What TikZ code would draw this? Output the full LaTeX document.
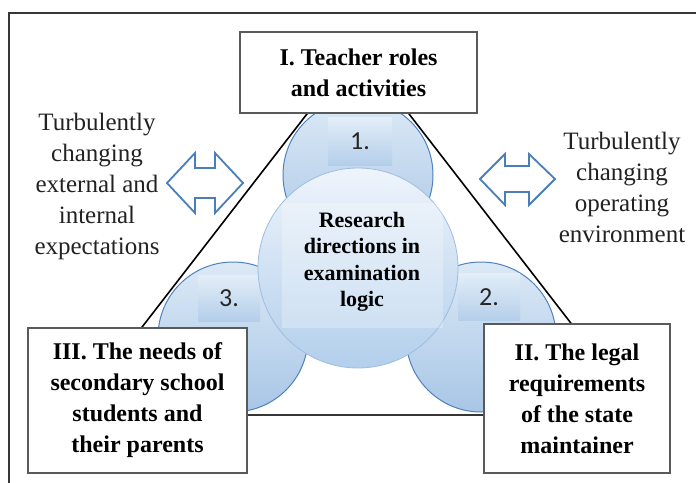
\documentclass[tikz,border=0pt]{standalone}
\usepackage{fontspec}
\setmainfont{Liberation Serif}
\newfontfamily\numfont{Carlito}
\usepackage{tikz}
\usetikzlibrary{positioning}

\definecolor{frameline}{HTML}{363636}
\definecolor{boxline}{HTML}{5A5A5A}
\definecolor{circline}{HTML}{4F81BD}
\definecolor{circtop}{HTML}{DCE9F6}
\definecolor{circbot}{HTML}{A8C6E6}
\definecolor{hubline}{HTML}{9DBDE0}
\definecolor{hubtop}{HTML}{EEF4FB}
\definecolor{hubbot}{HTML}{B3CFEC}
\definecolor{tiletop}{HTML}{E3EEF8}
\definecolor{tilebot}{HTML}{B4CEEA}
\definecolor{arrowline}{HTML}{4A7EBB}
\definecolor{sidetext}{HTML}{222222}

\begin{document}
\begin{tikzpicture}[x=1pt,y=-1pt,
    roundel/.style={circle, draw=circline, line width=1pt, top color=circtop,
        bottom color=circbot, minimum size=150pt, inner sep=0pt},
    hub/.style={circle, draw=hubline, line width=0.8pt, top color=hubtop,
        bottom color=hubbot, minimum size=200pt, inner sep=0pt},
    tile/.style={top color=tiletop, bottom color=tilebot, inner sep=0pt,
        font=\numfont\fontsize{26}{28}\selectfont, text=black!85},
    rolebox/.style={draw=boxline, line width=1.2pt, fill=white, align=center,
        inner sep=0pt, font=\bfseries\fontsize{24}{31}\selectfont},
    side/.style={align=center, text=sidetext, font=\fontsize{25}{31}\selectfont},
    twoway/.style={draw=arrowline, line width=1.8pt, fill=white, line join=miter}
]
    \useasboundingbox (0,0) rectangle (696,482);

    % Outer frame
    \draw[frameline, line width=2.6pt] (9,484) -- (9,13) -- (700,13);

    % Small circles with their number tiles
    \node[roundel] (c1) at (358,175) {};
    \node[roundel] (c2) at (481,337) {};
    \node[roundel] (c3) at (233,337) {};
    \node[tile, minimum width=64pt, minimum height=48pt] (n1) at (360,141) {1.};
    \node[tile, minimum width=62pt, minimum height=47pt] (n2) at (489,297) {2.};
    \node[tile, minimum width=62pt, minimum height=46pt] (n3) at (229,298) {3.};

    % Central circle
    \node[hub] (hub) at (358,268) {};
    \node[fill=white, opacity=0.25, minimum width=161pt, minimum height=125pt,
        inner sep=0pt] (hubtile) at (362,265) {};
    \node[align=center, font=\bfseries\fontsize{22}{26.5}\selectfont]
        (hubtext) at (362,262) {Research\\directions in\\examination\\logic};

    % Triangle
    \coordinate (apex) at (358,48);
    \coordinate (left) at (74,415);
    \coordinate (right) at (642,415);
    \draw[black, line width=1.6pt] (left) -- (apex) -- (right);
    \draw[frameline, line width=2.6pt] (left) -- (right);

    % Corner boxes
    \node[rolebox, minimum width=237pt, minimum height=81pt] (roles) at (358.5,72.5)
        {I. Teacher roles\\and activities};
    \node[rolebox, minimum width=186pt, minimum height=149pt] (legal) at (577,398.5)
        {II. The legal\\requirements\\of the state\\maintainer};
    \node[rolebox, minimum width=219pt, minimum height=145pt] (needs) at (137.5,400.5)
        {III. The needs of\\secondary school\\students and\\their parents};

    % Environment texts
    \node[side] (inner) at (97,186)
        {Turbulently\\changing\\external and\\internal\\expectations};
    \node[side] (outer) at (622,187)
        {Turbulently\\changing\\operating\\environment};

    % Double arrows
    \draw[twoway] (167,183) -- (195,153) -- (195,168) -- (215,168) -- (215,153)
        -- (243,183) -- (215,213) -- (215,198) -- (195,198) -- (195,213) -- cycle;
    \draw[twoway] (480,179) -- (505,154) -- (505,166) -- (529,166) -- (529,154)
        -- (555,179) -- (529,205) -- (529,192) -- (505,192) -- (505,205) -- cycle;
\end{tikzpicture}
\end{document}
